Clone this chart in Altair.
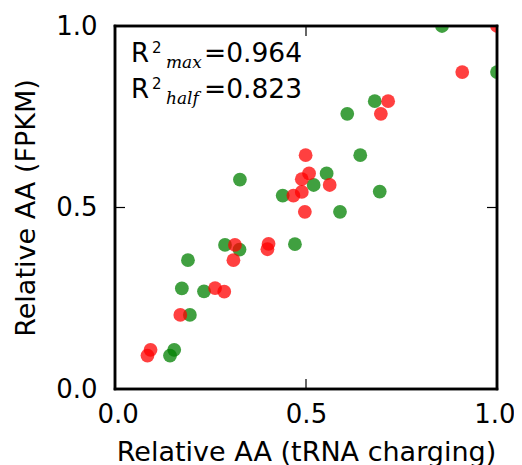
import altair as alt
import pandas as pd

# ---- data ----
green_x = [0.856, 1.000, 0.680, 0.608, 0.642, 0.554, 0.520, 0.439, 0.693, 0.589,
           0.471, 0.327, 0.288, 0.326, 0.191, 0.175, 0.233, 0.196, 0.155, 0.144]
green_y = [1.000, 0.873, 0.793, 0.758, 0.644, 0.594, 0.562, 0.533, 0.544, 0.488,
           0.399, 0.577, 0.397, 0.384, 0.355, 0.277, 0.269, 0.204, 0.108, 0.092]
red_x = [1.000, 0.909, 0.715, 0.696, 0.499, 0.508, 0.489, 0.489, 0.467, 0.562,
         0.497, 0.314, 0.310, 0.402, 0.399, 0.262, 0.286, 0.171, 0.093, 0.085]
red_y = [1.000, 0.873, 0.793, 0.758, 0.644, 0.594, 0.578, 0.543, 0.533, 0.562,
         0.488, 0.397, 0.355, 0.400, 0.385, 0.278, 0.268, 0.204, 0.108, 0.092]
series_names = ["green", "red"]
series_colors = ["#008000", "#ff0000"]
tick_values = [0.0, 0.5, 1.0]
inner_ticks = [0.5]
frame_ends = [0.0, 1.0]
r2_labels = ["max", "half"]
r2_values = [0.964, 0.823]
x_title = "Relative AA (tRNA charging)"
y_title = "Relative AA (FPKM)"

W, H = 382, 363
FONT = "DejaVu Sans"

df = pd.DataFrame({
    "x": green_x + red_x,
    "y": green_y + red_y,
    "s": [series_names[0]] * len(green_x) + [series_names[1]] * len(red_x),
})

x_axis = alt.Axis(values=tick_values, format=".1f", grid=False, ticks=False, tickSize=0,
                  domain=False, labelFont=FONT, labelFontSize=26, labelColor="black",
                  labelPadding=12, labelFlush=True, labelFlushOffset=18, title=x_title,
                  titleFont=FONT, titleFontSize=27, titleFontWeight="normal",
                  titleColor="black", titleBaseline="alphabetic", titleY=71, titleX=W / 2)
y_axis = alt.Axis(values=tick_values, format=".1f", grid=False, ticks=False, tickSize=0,
                  domain=False, labelFont=FONT, labelFontSize=26, labelColor="black",
                  labelPadding=18, labelFlush=False, title=y_title, titleFont=FONT,
                  titleFontSize=27, titleFontWeight="normal", titleColor="black",
                  titleBaseline="alphabetic", titleAngle=270, titleX=-81, titleY=H / 2)

X = alt.X("x:Q", scale=alt.Scale(domain=[0, 1], nice=False, zero=False), axis=x_axis)
Y = alt.Y("y:Q", scale=alt.Scale(domain=[0, 1], nice=False, zero=False), axis=y_axis)

points = alt.Chart(df).mark_circle(size=190, opacity=0.75, clip=True).encode(
    x=X, y=Y,
    color=alt.Color("s:N", scale=alt.Scale(domain=series_names, range=series_colors),
                    legend=None),
)

tx = pd.DataFrame({"x": inner_ticks})
ty = pd.DataFrame({"y": inner_ticks})
TL = 10
rule_kw = dict(color="black", strokeWidth=1.2)
tick_bottom = alt.Chart(tx).mark_rule(**rule_kw).encode(x=X, y=alt.value(H), y2=alt.value(H - TL))
tick_top = alt.Chart(tx).mark_rule(**rule_kw).encode(x=X, y=alt.value(0), y2=alt.value(TL))
tick_left = alt.Chart(ty).mark_rule(**rule_kw).encode(y=Y, x=alt.value(0), x2=alt.value(TL))
tick_right = alt.Chart(ty).mark_rule(**rule_kw).encode(y=Y, x=alt.value(W), x2=alt.value(W - TL))

# frame: one rule per side, positioned through the scales at the domain ends
fx = pd.DataFrame({"x": frame_ends, "k": ["L", "R"]})
fy = pd.DataFrame({"y": frame_ends, "k": ["B", "T"]})
frame_kw = dict(color="#000000", strokeWidth=2.5, strokeCap="square")
frame_v = alt.Chart(fx).mark_rule(**frame_kw).encode(x=X, y=alt.value(0), y2=alt.value(H))
frame_h = alt.Chart(fy).mark_rule(**frame_kw).encode(y=Y, x=alt.value(0), x2=alt.value(W))

# ---- annotation R^2 lines ----
ann = []
line_base = [36, 72]
for i, (lab, val) in enumerate(zip(r2_labels, r2_values)):
    b = line_base[i]
    d = pd.DataFrame({"t": ["R", "2", lab, f"={val:.3f}"]})
    ann.append(alt.Chart(d).transform_filter(alt.datum.t == "R").mark_text(
        font=FONT, fontSize=26, align="left", baseline="alphabetic", color="black"
    ).encode(text="t:N", x=alt.value(16), y=alt.value(b)))
    ann.append(alt.Chart(d).transform_filter(alt.datum.t == "2").mark_text(
        font=FONT, fontSize=15, align="left", baseline="alphabetic", color="black"
    ).encode(text="t:N", x=alt.value(37), y=alt.value(b - 9)))
    ann.append(alt.Chart(d).transform_filter(alt.datum.t == lab).mark_text(
        font="DejaVu Serif", fontSize=17, fontStyle="italic", align="left",
        baseline="alphabetic", color="black"
    ).encode(text="t:N", x=alt.value(51), y=alt.value(b + 6)))
    ann.append(alt.Chart(d).transform_filter(alt.datum.t == f"={val:.3f}").mark_text(
        font=FONT, fontSize=26.5, align="left", baseline="alphabetic", color="black"
    ).encode(text="t:N", x=alt.value(89), y=alt.value(b)))

chart = alt.layer(points, tick_bottom, tick_top, tick_left, tick_right,
                  *ann, frame_v, frame_h).properties(
    width=W, height=H,
    background="white",
    autosize=alt.AutoSizeParams(type="none"),
    padding={"left": 107, "top": 18, "right": 17, "bottom": 76},
).configure_view(stroke="#000000", strokeWidth=2.5)

chart.save("out.html", embed_options={"renderer": "svg", "actions": False})
